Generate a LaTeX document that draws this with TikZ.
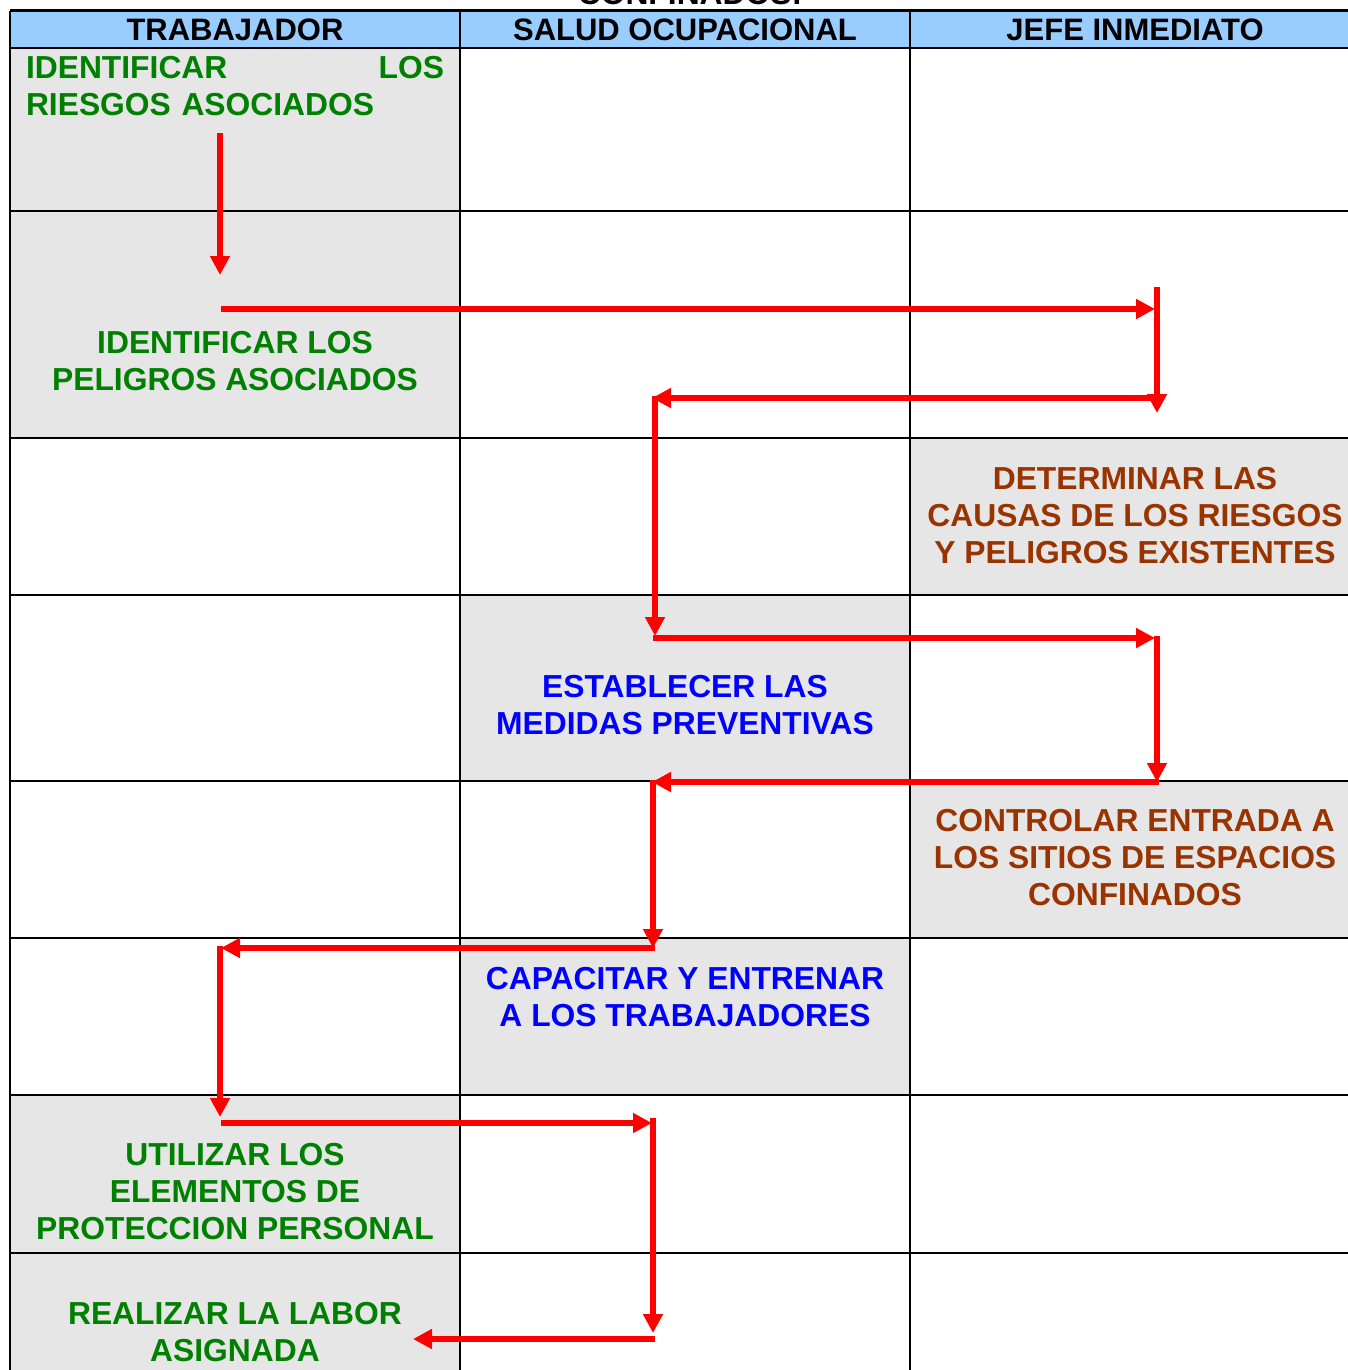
\documentclass[tikz,border=0pt]{standalone}
\usepackage{fontspec}
\setmainfont{Liberation Sans}
\usetikzlibrary{arrows.meta}
\definecolor{hdr}{HTML}{99CCFF}
\definecolor{cellgray}{HTML}{E6E6E6}
\definecolor{tgreen}{HTML}{008000}
\definecolor{tblue}{HTML}{0000FF}
\definecolor{tbrown}{HTML}{993300}
\begin{document}
\begin{tikzpicture}[x=1pt,y=-1pt,
  grid/.style={line width=2pt, black},
  flow/.style={draw=red, line width=5.5pt, -{Triangle[length=19pt,width=19pt]}},
  lbl/.style={font=\bfseries\fontsize{31.8}{37}\selectfont, align=center, inner sep=0pt},
  hlbl/.style={font=\bfseries\fontsize{31}{37}\selectfont, inner sep=0pt, anchor=base}
]
\useasboundingbox (0,0) rectangle (1348,1370);
\clip (0,0) rectangle (1348,1370);
% background
\fill[white] (0,0) rectangle (1348,1370);
% header
\fill[hdr] (10,11) rectangle (1360,48);
% gray cells
\fill[cellgray] (10,48) rectangle (460,438);
\fill[cellgray] (910,438) rectangle (1360,595);
\fill[cellgray] (460,595) rectangle (910,781);
\fill[cellgray] (910,781) rectangle (1360,938);
\fill[cellgray] (460,938) rectangle (910,1095);
\fill[cellgray] (10,1095) rectangle (460,1380);
% grid
\draw[line width=3pt] (10,11) -- (1360,11);
\draw[line width=2.5pt] (10,48) -- (1360,48);
\foreach \yy in {211,438,595,781,938,1095,1253}
  \draw[grid] (10,\yy) -- (1360,\yy);
\foreach \xx in {10,460,910}
  \draw[grid] (\xx,11) -- (\xx,1380);
% title (cut off at the top edge, as in the reference)
\node[hlbl, font=\bfseries\fontsize{31.8}{37}\selectfont] (title) at (690,5) {CONFINADOS:};
% header labels
\node[hlbl] (h1) at (235,41) {TRABAJADOR};
\node[hlbl] (h2) at (685,41) {SALUD OCUPACIONAL};
\node[hlbl] (h3) at (1135,41) {JEFE INMEDIATO};
% activity labels
\node[lbl, text=tgreen, text width=418pt, align=left] (n1) at (235,86.5) {IDENTIFICAR\hfill LOS\\RIESGOS ASOCIADOS};
\node[lbl, text=tgreen] (n2) at (235,361) {IDENTIFICAR LOS\\PELIGROS ASOCIADOS};
\node[lbl, text=tbrown] (n3) at (1135,516) {DETERMINAR LAS\\CAUSAS DE LOS RIESGOS\\Y PELIGROS EXISTENTES};
\node[lbl, text=tblue] (n4) at (685,705.5) {ESTABLECER LAS\\MEDIDAS PREVENTIVAS};
\node[lbl, text=tbrown] (n5) at (1135,858) {CONTROLAR ENTRADA A\\LOS SITIOS DE ESPACIOS\\CONFINADOS};
\node[lbl, text=tblue] (n6) at (685,997.5) {CAPACITAR Y ENTRENAR\\A LOS TRABAJADORES};
\node[lbl, text=tgreen] (n7) at (235,1192) {UTILIZAR LOS\\ELEMENTOS DE\\PROTECCION PERSONAL};
\node[lbl, text=tgreen] (n8) at (235,1332.5) {REALIZAR LA LABOR\\ASIGNADA};
% connector points
\coordinate (a1s) at (220,133);  \coordinate (a1e) at (220,275);
\coordinate (a2s) at (221,309);  \coordinate (a2e) at (1155,309);
\coordinate (a3s) at (1157,287); \coordinate (a3e) at (1157,413);
\coordinate (a4s) at (1159,398); \coordinate (a4e) at (652,398);
\coordinate (a5s) at (655,396);  \coordinate (a5e) at (655,636);
\coordinate (a6s) at (653,638);  \coordinate (a6e) at (1155,638);
\coordinate (a7s) at (1157,636); \coordinate (a7e) at (1157,782);
\coordinate (a8s) at (1159,782); \coordinate (a8e) at (652,782);
\coordinate (a9s) at (653,780);  \coordinate (a9e) at (653,948);
\coordinate (a10s) at (655,948); \coordinate (a10e) at (221,948);
\coordinate (a11s) at (220,946); \coordinate (a11e) at (220,1117);
\coordinate (a12s) at (221,1123); \coordinate (a12e) at (652,1123);
\coordinate (a13s) at (653,1118); \coordinate (a13e) at (653,1333);
\coordinate (a14s) at (655,1339); \coordinate (a14e) at (413,1339);
\foreach \k in {1,...,14}
  \draw[flow] (a\k s) -- (a\k e);
\end{tikzpicture}
\end{document}
